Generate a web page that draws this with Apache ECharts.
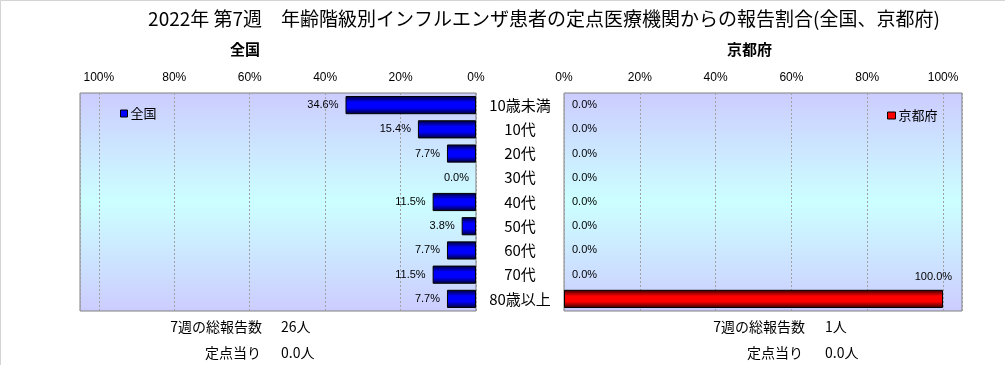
<!DOCTYPE html>
<html><head><meta charset="utf-8">
<script src="https://cdn.jsdelivr.net/npm/echarts/dist/echarts.min.js"></script>
<style>html,body{margin:0;padding:0;background:#fff}#c{width:1006px;height:365px}</style>
</head><body><div id="c"></div>
<script>
const categories = ['10歳未満','10代','20代','30代','40代','50代','60代','70代','80歳以上'];
const nationalValues = [34.6, 15.4, 7.7, 0.0, 11.5, 3.8, 7.7, 11.5, 7.7];
const kyotoValues = [0.0, 0.0, 0.0, 0.0, 0.0, 0.0, 0.0, 0.0, 100.0];
const titleText = '2022年 第7週　年齢階級別インフルエンザ患者の定点医療機関からの報告割合(全国、京都府)';
const panelTitles = ['全国', '京都府'];
const totalLabel = '7週の総報告数';
const perPointLabel = '定点当り';
const nationalTotal = '26人';
const nationalPerPoint = '0.0人';
const kyotoTotal = '1人';
const kyotoPerPoint = '0.0人';

const FONT = "'Liberation Sans','Noto Sans CJK JP',sans-serif";
const JFONT = "'Noto Sans CJK JP',sans-serif";

const bgGrad = {type:'linear',x:0,y:0,x2:0,y2:1,colorStops:[
  {offset:0,color:'#CCCCFF'},{offset:0.5,color:'#CCFFFF'},{offset:1,color:'#CCCCFF'}]};
const blueGrad = {type:'linear',x:0,y:0,x2:0,y2:1,colorStops:[
  {offset:0,color:'#000030'},{offset:0.35,color:'#0000FF'},{offset:0.65,color:'#0000FF'},{offset:1,color:'#000030'}]};
const redGrad = {type:'linear',x:0,y:0,x2:0,y2:1,colorStops:[
  {offset:0,color:'#300000'},{offset:0.35,color:'#FF0000'},{offset:0.65,color:'#FF0000'},{offset:1,color:'#300000'}]};

const pctFmt = v => (v > 100 ? '' : v + '%');

function xAxisCfg(gridIndex, inverse){
  return {type:'value', gridIndex, min:0, max:105, interval:20, inverse, position:'top',
    axisLine:{show:false}, axisTick:{show:false},
    axisLabel:{formatter:pctFmt, showMaxLabel:false, color:'#000', fontSize:12, fontFamily:FONT, margin:9},
    splitLine:{show:true, lineStyle:{color:'#a0a0a0', type:[2,2], width:1}}};
}

const nationalData = nationalValues.map(v => v === 0 ? {value:v, itemStyle:{borderWidth:0}} : v);
const kyotoData = kyotoValues.map(v => {
  if (v === 0) return {value:v, itemStyle:{borderWidth:0}};
  if (v >= 100) return {value:v, label:{position:'insideRight', offset:[17,-22]}};
  return v;
});

const tStyle = (size) => "" + size + "px 'Noto Sans CJK JP'";

const chart = echarts.init(document.getElementById('c'), null, {renderer:'canvas'});
chart.setOption({
  animation:false,
  backgroundColor:'#fff',
  textStyle:{fontFamily:FONT},
  title:{text:titleText, left:539, textAlign:'center', top:4,
    textStyle:{fontSize:19, fontWeight:'normal', color:'#000', fontFamily:JFONT}},
  legend:[
    {data:['全国'], icon:'rect', left:115, top:102, itemWidth:7, itemHeight:7, itemGap:4,
     textStyle:{fontSize:13, color:'#000', fontFamily:JFONT, padding:[0,0,0,-2]},
     itemStyle:{color:'#0000FF', borderColor:'#000', borderWidth:1}},
    {data:['京都府'], icon:'rect', left:882, top:104, itemWidth:8, itemHeight:7, itemGap:4,
     textStyle:{fontSize:13, color:'#000', fontFamily:JFONT, padding:[0,0,0,-2]},
     itemStyle:{color:'#FF0000', borderColor:'#000', borderWidth:1}}
  ],
  grid:[
    {left:80, top:93, width:396, height:218, show:true, borderColor:'#808080', borderWidth:1, backgroundColor:bgGrad},
    {left:564, top:93, width:398, height:218, show:true, borderColor:'#808080', borderWidth:1, backgroundColor:bgGrad}
  ],
  xAxis:[xAxisCfg(0,true), xAxisCfg(1,false)],
  yAxis:[
    {type:'category', gridIndex:0, data:categories, inverse:true, position:'right',
     axisLine:{show:false}, axisTick:{show:false}, splitLine:{show:false},
     axisLabel:{align:'center', margin:44, fontSize:15, color:'#000', fontFamily:JFONT}},
    {type:'category', gridIndex:1, data:categories, inverse:true,
     axisLine:{show:false}, axisTick:{show:false}, axisLabel:{show:false}, splitLine:{show:false}}
  ],
  series:[
    {name:'全国', type:'bar', xAxisIndex:0, yAxisIndex:0, data:nationalData, barCategoryGap:'25%',
     itemStyle:{color:blueGrad, borderColor:'#000', borderWidth:1},
     label:{show:true, position:'left', distance:7, fontSize:11, color:'#000', fontFamily:FONT,
       formatter:p => p.value.toFixed(1) + '%'}},
    {name:'京都府', type:'bar', xAxisIndex:1, yAxisIndex:1, data:kyotoData, barCategoryGap:'25%',
     itemStyle:{color:redGrad, borderColor:'#000', borderWidth:1},
     label:{show:true, position:'right', distance:8, fontSize:11, color:'#000', fontFamily:FONT,
       formatter:p => p.value.toFixed(1) + '%'}}
  ],
  graphic:[
    {type:'polyline', silent:true, shape:{points:[[0.5,365],[0.5,0.5],[1005,0.5]]}, style:{stroke:'#d4d4d4', lineWidth:1, fill:null}},
    {type:'text', left:230, top:42, style:{text:panelTitles[0], font:"bold 15px 'Noto Sans CJK JP'", fill:'#000'}},
    {type:'text', left:727, top:42, style:{text:panelTitles[1], font:"bold 15px 'Noto Sans CJK JP'", fill:'#000'}},
    {type:'text', x:262, y:327, style:{text:totalLabel, font:tStyle(14), fill:'#000', align:'right', verticalAlign:'middle'}},
    {type:'text', x:281, y:327, style:{text:nationalTotal, font:tStyle(14), fill:'#000', align:'left', verticalAlign:'middle'}},
    {type:'text', x:261, y:353, style:{text:perPointLabel, font:tStyle(14), fill:'#000', align:'right', verticalAlign:'middle'}},
    {type:'text', x:281, y:353, style:{text:nationalPerPoint, font:tStyle(14), fill:'#000', align:'left', verticalAlign:'middle'}},
    {type:'text', x:805, y:327, style:{text:totalLabel, font:tStyle(14), fill:'#000', align:'right', verticalAlign:'middle'}},
    {type:'text', x:825, y:327, style:{text:kyotoTotal, font:tStyle(14), fill:'#000', align:'left', verticalAlign:'middle'}},
    {type:'text', x:803, y:353, style:{text:perPointLabel, font:tStyle(14), fill:'#000', align:'right', verticalAlign:'middle'}},
    {type:'text', x:825, y:353, style:{text:kyotoPerPoint, font:tStyle(14), fill:'#000', align:'left', verticalAlign:'middle'}}
  ]
});
</script></body></html>
